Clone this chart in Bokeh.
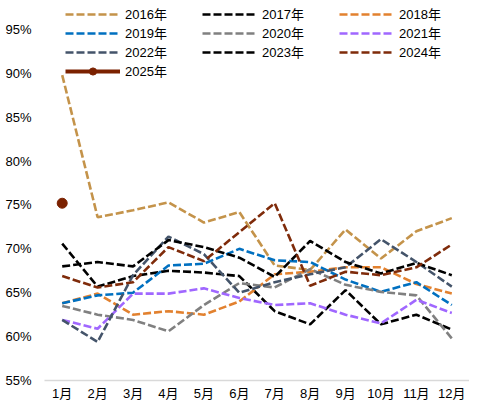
from bokeh.plotting import figure
from bokeh.models import FactorRange, Range1d, FixedTicker, PrintfTickFormatter, Legend, LegendItem
from bokeh.embed import file_html
from bokeh.resources import INLINE

months = ["1月", "2月", "3月", "4月", "5月", "6月", "7月", "8月", "9月", "10月", "11月", "12月"]
y_ticks = [55, 60, 65, 70, 75, 80, 85, 90, 95]

v2016 = [89.8, 73.6, 74.4, 75.3, 73.0, 74.2, 68.1, 67.6, 72.2, 68.9, 72.0, 73.5]
v2017 = [70.6, 65.7, 66.9, 67.5, 67.3, 66.9, 62.9, 61.4, 65.3, 61.4, 62.5, 60.8]
v2018 = [63.8, 64.9, 62.5, 62.9, 62.5, 64.0, 67.1, 67.4, 67.9, 67.9, 66.0, 64.9]
v2019 = [63.8, 64.7, 65.0, 68.1, 68.3, 70.0, 68.7, 68.5, 66.5, 65.1, 66.2, 63.6]
v2020 = [63.5, 62.5, 61.9, 60.6, 63.6, 66.1, 65.6, 67.7, 65.9, 65.1, 64.7, 59.8]
v2021 = [61.9, 60.9, 64.9, 64.9, 65.5, 64.4, 63.6, 63.8, 62.5, 61.5, 64.2, 62.7]
v2022 = [61.9, 59.4, 67.0, 71.4, 69.4, 65.0, 66.2, 67.1, 67.9, 71.1, 68.5, 65.7]
v2023 = [68.0, 68.5, 68.0, 71.0, 70.2, 69.0, 66.8, 70.9, 68.5, 67.2, 68.4, 67.0]
v2024 = [66.9, 65.6, 66.2, 70.2, 68.6, 71.9, 75.2, 65.8, 67.4, 67.0, 67.9, 70.5]
m2025 = ["1月"]
v2025 = [75.2]

series = [
    ("2016年", v2016, "#C4934A"),
    ("2017年", v2017, "#000000"),
    ("2018年", v2018, "#E2812F"),
    ("2019年", v2019, "#0070C0"),
    ("2020年", v2020, "#808080"),
    ("2021年", v2021, "#A067FF"),
    ("2022年", v2022, "#44546A"),
    ("2023年", v2023, "#000000"),
    ("2024年", v2024, "#7F2B0A"),
]

FONT = "Liberation Sans, Noto Sans CJK SC"

p = figure(width=469, height=403, output_backend="svg", toolbar_location=None,
           x_range=FactorRange(*months, range_padding=0),
           y_range=Range1d(55, 98.30),
           min_border_left=44, min_border_right=0, min_border_top=0, min_border_bottom=0)

p.xgrid.visible = False
p.ygrid.visible = False
p.outline_line_color = None
p.background_fill_color = "white"
p.border_fill_color = "white"

items = []
for name, vals, col in series:
    r = p.line(months, vals, line_color=col, line_width=2.6, line_dash="8 3")
    items.append(LegendItem(label=name, renderers=[r]))

r25l = p.line(m2025, v2025, line_color="#7B2100", line_width=4)
r25s = p.scatter(m2025, v2025, size=10, color="#7B2100")
items.append(LegendItem(label="2025年", renderers=[r25l, r25s]))

legend = Legend(items=items, orientation="horizontal", ncols=3,
                location=(21, 300), padding=0, margin=0, spacing=0,
                glyph_width=55, glyph_height=18, label_height=18, label_width=77,
                label_standoff=5, border_line_color=None, background_fill_alpha=0,
                label_text_font=FONT, label_text_font_size="13px", label_text_color="#000000")
p.add_layout(legend)

p.yaxis.ticker = FixedTicker(ticks=y_ticks)
p.yaxis.formatter = PrintfTickFormatter(format="%d%%")
p.yaxis.axis_line_color = None
p.yaxis.major_tick_line_color = None
p.yaxis.minor_tick_line_color = None
p.yaxis.major_tick_out = 0
p.yaxis.minor_tick_out = 0
p.yaxis.major_label_standoff = 13
p.yaxis.major_label_text_font = FONT
p.yaxis.major_label_text_font_size = "13px"
p.yaxis.major_label_text_color = "#000000"

p.xaxis.axis_line_color = "#D9D9D9"
p.xaxis.axis_line_width = 1.5
p.xaxis.major_tick_line_color = None
p.xaxis.minor_tick_line_color = None
p.xaxis.major_tick_out = 0
p.xaxis.minor_tick_out = 0
p.xaxis.major_label_standoff = 5
p.xaxis.major_label_text_font = FONT
p.xaxis.major_label_text_font_size = "13px"
p.xaxis.major_label_text_color = "#000000"

open("out.html", "w").write(file_html(p, INLINE))
